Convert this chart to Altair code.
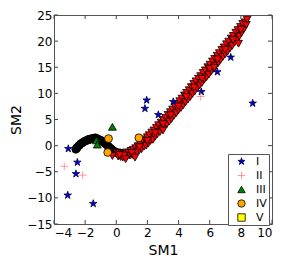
import altair as alt
import pandas as pd

# ---------------- data ----------------
groups = ["I", "II", "III", "IV", "V", "VI", "VII"]
legend_groups = ["I", "II", "III", "IV", "V"]

# I : blue stars
i_x = [-3.08, -2.50, -2.59, -3.12, -1.48, 1.95, 1.84, 2.70, 3.66, 5.46, 6.49, 7.35, 8.76]
i_y = [-0.6, -3.2, -5.4, -9.5, -11.1, 8.7, 7.1, 5.9, 8.4, 10.3, 14.1, 16.9, 8.1]

# II : red plus
ii_x = [-3.34, -2.16, 5.42]
ii_y = [-3.96, -5.65, 9.4]

# III : green triangles
iii_x = [-0.25, -1.28, -1.22]
iii_y = [3.6, 1.0, 0.2]

# IV : orange circles
iv_x = [-0.50, -0.55, 1.45]
iv_y = [1.35, -1.30, 1.50]

# V : yellow square (hidden below the band)
v_x = [1.0]
v_y = [-1.2]

# VI : black circles (not in legend)
vi_x = [-2.60, -2.55, -2.50, -2.40, -2.30, -2.20, -2.10, -2.00, -1.90, -1.80, -1.75,
        -1.70, -1.60, -1.50, -1.40, -1.35, -1.30, -1.20, -1.10, -1.00, -0.95, -0.90,
        -0.80, -0.70, -0.60, -0.50, -0.40, -0.30, -0.20, -0.10, 0.00, 0.10]
vi_y = [-0.7, -0.5, -0.3, 0.0, 0.3, 0.5, 0.7, 0.9, 1.0, 1.1, 1.25,
        1.2, 1.3, 1.4, 1.35, 1.5, 1.4, 1.3, 1.15, 1.0, 0.95, 0.8,
        0.6, 0.35, 0.1, -0.15, -0.45, -0.7, -0.95, -1.15, -1.3, -1.45]

# VII : red down-triangles (not in legend)
vii_x = [0.05, 0.12, 0.20, 0.28, 0.35, 0.42, 0.50, 0.58, 0.65, 0.72, 0.80, 0.88, 0.95,
         1.02, 1.10, 1.18, 1.25, 1.32, 1.40, 1.48, 1.55, 1.62, 1.70, 1.78, 1.85, 1.92,
         2.00, 2.06, 2.12, 2.20, 2.28, 2.35, 2.42, 2.50, 2.58, 2.65, 2.72, 2.80, 2.88,
         2.95, 3.02, 3.10, 3.18, 3.25, 3.32, 3.40, 3.48, 3.55, 3.62, 3.70, 3.78, 3.85,
         3.92, 4.00, 4.08, 4.15, 4.22, 4.30, 4.38, 4.45, 4.52, 4.60, 4.68, 4.75, 4.82,
         4.90, 4.98, 5.05, 5.12, 5.20, 5.28, 5.35, 5.42, 5.50, 5.58, 5.65, 5.72, 5.80,
         5.88, 5.95, 6.02, 6.10, 6.18, 6.25, 6.32, 6.40, 6.48, 6.55, 6.62, 6.70, 6.78,
         6.85, 6.92, 7.00, 7.08, 7.15, 7.22, 7.30, 7.38, 7.45, 7.52, 7.60, 7.68, 7.75,
         7.82, 7.90, 7.98, 8.05, 8.12, 8.20, 8.28, 8.35, 8.40,
         1.00, 1.50, 2.00, 2.50, 3.00, 3.50, 4.00, 4.50, 5.00, 5.50, 6.00, 6.50, 7.00,
         7.50, 8.00, 0.50, 0.20, 7.85, 6.30, 3.00, 1.20, 0.60, -0.25]
vii_y = [-1.3, -2.1, -1.4, -2.2, -1.5, -2.3, -1.6, -2.1, -1.3, -2.0, -1.4, -1.9, -1.0,
         -1.8, -0.8, -1.5, -0.5, -1.3, -0.1, -0.9, 0.3, -0.7, 0.9, -0.2, 1.2, 0.0,
         1.6, 0.4, 2.0, 0.9, 2.5, 1.1, 2.9, 1.7, 3.4, 2.2, 3.9, 2.6, 4.4,
         3.2, 4.9, 3.6, 5.3, 4.1, 5.9, 4.6, 6.4, 5.1, 6.9, 5.7, 7.4, 6.2,
         8.0, 6.8, 8.5, 7.2, 9.0, 7.7, 9.6, 8.3, 10.1, 8.8, 10.6, 9.3, 11.2,
         9.9, 11.8, 10.4, 12.3, 11.0, 12.8, 11.5, 13.3, 12.0, 13.9, 12.6, 14.4, 13.1,
         15.0, 13.6, 15.5, 14.2, 16.1, 14.7, 16.6, 15.3, 17.2, 15.8, 17.7, 16.4, 18.3,
         17.0, 18.8, 17.5, 19.4, 18.0, 19.9, 18.6, 20.5, 19.1, 21.0, 19.7, 21.6, 20.3,
         22.1, 20.9, 22.7, 21.6, 23.3, 22.3, 23.6, 23.1, 24.1,
         -1.4, -0.3, 0.9, 2.4, 4.1, 5.8, 7.5, 9.3, 11.1, 12.8, 14.7, 16.5, 18.3,
         20.2, 22.2, -1.9, -1.8, 19.5, 14.9, 2.9, -2.3, -2.6, -2.0]

x_ticks = [-4, -2, 0, 2, 4, 6, 8, 10]
y_ticks = [-15, -10, -5, 0, 5, 10, 15, 20, 25]

fills = ["#0000e0", "#ff8080", "#008000", "#ffa500", "#ffff00", "#000000", "#ff0000"]
strokes = ["#000040", "#ff8080", "#000000", "#000000", "#000000", "#000000", "#000000"]
star = ("M0,-1L0.225,-0.309L0.951,-0.309L0.363,0.118L0.588,0.809L0,0.382"
        "L-0.588,0.809L-0.363,0.118L-0.951,-0.309L-0.225,-0.309Z")
plus = "M-1,0L1,0M0,-1L0,1"
shapes = [star, plus, "triangle-up", "circle", "square", "circle", "triangle-down"]

# drawing order: V, VI, VII, I, II, III, IV
series = [("V", v_x, v_y), ("VI", vi_x, vi_y), ("VII", vii_x, vii_y),
          ("I", i_x, i_y), ("II", ii_x, ii_y), ("III", iii_x, iii_y), ("IV", iv_x, iv_y)]
rows = []
for g, xs_, ys_ in series:
    for a, b in zip(xs_, ys_):
        rows.append({"g": g, "x": a, "y": b, "z": len(rows)})
df = pd.DataFrame(rows)

W, H = 218, 209
FONT = "DejaVu Sans"
xs = alt.Scale(domain=[-4, 10], nice=False, zero=False)
ys = alt.Scale(domain=[-15, 25], nice=False, zero=False)

x_axis = alt.Axis(values=x_ticks, title="SM1", ticks=False, domain=False, grid=False,
                  labelPadding=3, titlePadding=5, titleFontSize=14)
y_axis = alt.Axis(values=y_ticks, title="SM2", ticks=False, domain=False, grid=False,
                  labelPadding=2, titleFontSize=14, titleX=-38, titleY=H / 2,
                  titleAngle=270, titleAlign="center", titleBaseline="middle")

legend = alt.Legend(values=legend_groups, title=None, orient="none",
                    legendX=174, legendY=139)

points = alt.Chart(df).mark_point(filled=True, size=62, strokeWidth=0.8, opacity=1).encode(
    x=alt.X("x:Q", scale=xs, axis=x_axis),
    y=alt.Y("y:Q", scale=ys, axis=y_axis),
    fill=alt.Fill("g:N", scale=alt.Scale(domain=groups, range=fills), legend=legend),
    stroke=alt.Stroke("g:N", scale=alt.Scale(domain=groups, range=strokes), legend=legend),
    shape=alt.Shape("g:N", scale=alt.Scale(domain=groups, range=shapes), legend=legend),
    order=alt.Order("z:Q"),
)

xt = pd.DataFrame({"v": x_ticks})
yt = pd.DataFrame({"v": y_ticks})
tick_col = "#444444"
bottom_ticks = alt.Chart(xt).mark_rule(color=tick_col, strokeWidth=1).encode(
    x=alt.X("v:Q", scale=xs, axis=x_axis), y=alt.value(H), y2=alt.value(H - 4))
top_ticks = alt.Chart(xt).mark_rule(color=tick_col, strokeWidth=1).encode(
    x=alt.X("v:Q", scale=xs, axis=x_axis), y=alt.value(0), y2=alt.value(4))
left_ticks = alt.Chart(yt).mark_rule(color=tick_col, strokeWidth=1).encode(
    y=alt.Y("v:Q", scale=ys, axis=y_axis), x=alt.value(0), x2=alt.value(4))
right_ticks = alt.Chart(yt).mark_rule(color=tick_col, strokeWidth=1).encode(
    y=alt.Y("v:Q", scale=ys, axis=y_axis), x=alt.value(W), x2=alt.value(W - 4))

chart = alt.layer(points, bottom_ticks, top_ticks, left_ticks, right_ticks).properties(
    width=W, height=H,
    autosize=alt.AutoSizeParams(type="none"),
    padding={"left": 46, "top": 7, "right": 8, "bottom": 34},
).configure_view(
    stroke="#555555", strokeWidth=1
).configure_axis(
    labelFont=FONT, labelFontSize=12, labelColor="#000000",
    titleFont=FONT, titleFontWeight="normal", titleColor="#000000",
).configure_legend(
    strokeColor="#555555", fillColor="#ffffff", padding=2, cornerRadius=0,
    labelFont=FONT, labelFontSize=11, labelColor="#000000",
    symbolSize=55, symbolStrokeWidth=0.8, symbolOffset=6, labelOffset=9, rowPadding=2,
)

chart.save("out.html", embed_options={"renderer": "svg", "actions": False})
